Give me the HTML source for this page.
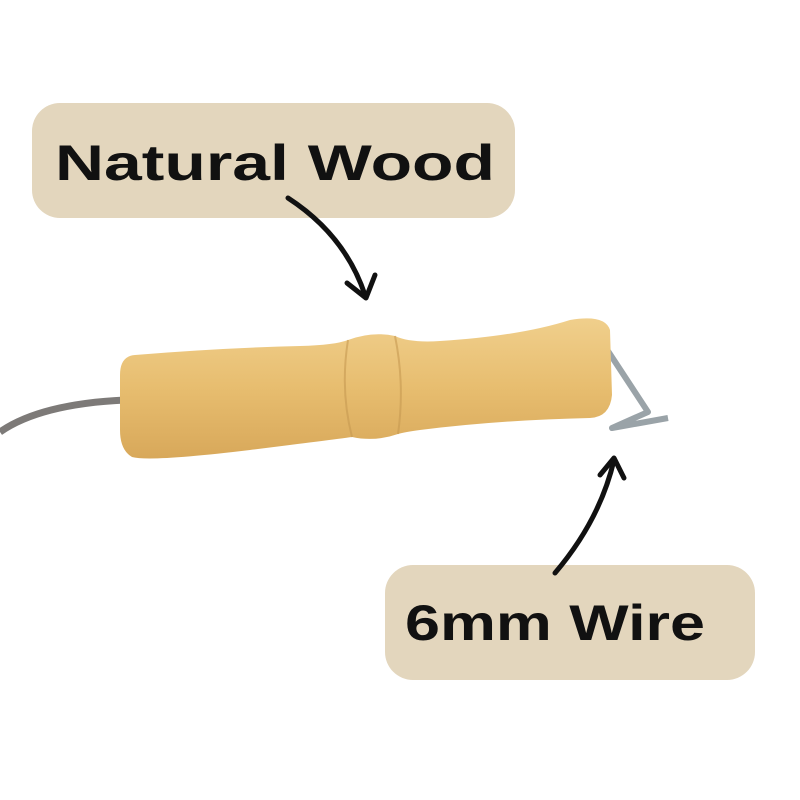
<!DOCTYPE html>
<html><head><style>
html,body{margin:0;padding:0;background:#fff;width:800px;height:800px;overflow:hidden}
</style></head><body>
<svg width="800" height="800" viewBox="0 0 800 800" xmlns="http://www.w3.org/2000/svg">
<defs>
<linearGradient id="w" x1="0" y1="0" x2="0" y2="1">
<stop offset="0" stop-color="#f0cf8c"/><stop offset="0.5" stop-color="#e7bd6f"/><stop offset="1" stop-color="#d8a85a"/>
</linearGradient>
</defs>
<rect x="32" y="103" width="483" height="115" rx="28" fill="#e3d6bd"/>
<rect x="385" y="565" width="370" height="115" rx="28" fill="#e3d6bd"/>
<text x="55" y="180" textLength="440" lengthAdjust="spacingAndGlyphs" font-family="'Liberation Sans',sans-serif" font-weight="bold" font-size="50" fill="#111">Natural Wood</text>
<text x="405" y="640" textLength="300" lengthAdjust="spacingAndGlyphs" font-family="'Liberation Sans',sans-serif" font-weight="bold" font-size="50" fill="#111">6mm Wire</text>
<path d="M288,198 Q345,235 365,295" fill="none" stroke="#111" stroke-width="5" stroke-linecap="round"/>
<path d="M347,283 L366,298 L375,275" fill="none" stroke="#111" stroke-width="5" stroke-linecap="round" stroke-linejoin="round"/>
<path d="M555,573 Q600,520 614,460" fill="none" stroke="#111" stroke-width="5" stroke-linecap="round"/>
<path d="M600,475 L614,458 L624,478" fill="none" stroke="#111" stroke-width="5" stroke-linecap="round" stroke-linejoin="round"/>
<path d="M0,432 Q40,404 125,400" fill="none" stroke="#7d7a78" stroke-width="7"/>
<path d="M606,348 L648,412 L612,428 L668,418" fill="none" stroke="#9aa3a8" stroke-width="6" stroke-linejoin="round"/>
<path d="M135,355 Q220,348 300,346 Q335,345 348,340 Q372,331 395,336 Q410,343 440,341 Q520,336 570,320 Q605,314 610,330 L612,395 Q610,417 590,418 Q500,420 420,430 Q405,432 398,434 Q375,442 352,437 Q330,440 250,450 Q150,462 132,457 Q120,450 120,430 L120,375 Q120,356 135,355 Z" fill="url(#w)"/>
<path d="M348,340 Q340,390 352,437 M395,336 Q405,385 398,434" fill="none" stroke="#c79a52" stroke-width="2" opacity="0.6"/>
</svg>
</body></html>
